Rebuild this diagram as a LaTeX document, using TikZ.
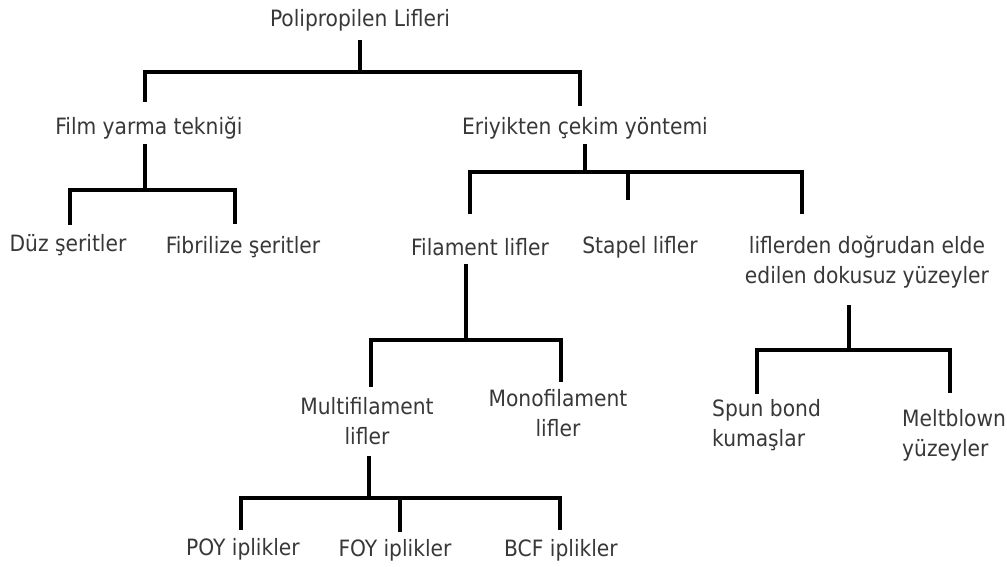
\documentclass[tikz,border=0pt]{standalone}
\usepackage{fontspec}
\setmainfont{DejaVu Sans Condensed}
\begin{document}
\begin{tikzpicture}[x=1pt,y=-1pt,
  lbl/.style={text=black!78, font=\fontsize{22.5}{30}\selectfont, inner sep=0pt, align=center},
  lbll/.style={lbl, align=left, anchor=west},
  tree/.style={line width=4pt, line join=miter, line cap=rect, black}]
\fill[white] (0,0) rectangle (1007,567);
\useasboundingbox (0,0) rectangle (1007,567);
% labels
\node[lbl] (root) at (360,20) {Polipropilen Lifleri};
\node[lbl] (film) at (149,128) {Film yarma tekniği};
\node[lbl] (eri)  at (585,128) {Eriyikten çekim yöntemi};
\node[lbl] (duz)  at (68,245)  {Düz şeritler};
\node[lbl] (fib)  at (243,247) {Fibrilize şeritler};
\node[lbl] (fil)  at (480,247) {Filament lifler};
\node[lbl] (sta)  at (640,247) {Stapel lifler};
\node[lbl] (dok)  at (867,262) {liflerden doğrudan elde\\edilen dokusuz yüzeyler};
\node[lbl] (multi) at (367,421) {Multifilament\\lifler};
\node[lbl] (mono) at (558,413) {Monofilament\\lifler};
\node[lbll] (spun) at (712,425) {Spun bond\\kumaşlar};
\node[lbll] (melt) at (902,435) {Meltblown\\yüzeyler};
\node[lbl] (poy) at (243,549) {POY iplikler};
\node[lbl] (foy) at (395,550) {FOY iplikler};
\node[lbl] (bcf) at (561,550) {BCF iplikler};
% junction coordinates
\coordinate (r0) at (360,42);  \coordinate (r1) at (360,72);
\coordinate (rl) at (145,100); \coordinate (rr) at (580,104);
\coordinate (f0) at (145,146); \coordinate (f1) at (145,190);
\coordinate (fl) at (70,223);  \coordinate (fr) at (235,222);
\coordinate (e0) at (585,146); \coordinate (e1) at (585,172);
\coordinate (el) at (470,212); \coordinate (em) at (628,198); \coordinate (er) at (802,212);
\coordinate (l0) at (466,266); \coordinate (l1) at (466,340);
\coordinate (ll) at (371,385); \coordinate (lr) at (561,380);
\coordinate (m0) at (369,458); \coordinate (m1) at (369,498);
\coordinate (ml) at (241,528); \coordinate (mm) at (400,530); \coordinate (mr) at (560,528);
\coordinate (d0) at (849,307); \coordinate (d1) at (849,350);
\coordinate (dl) at (757,392); \coordinate (dr) at (950,391);
% connectors
\draw[tree] (r0) -- (r1);
\draw[tree] (rl) |- (r1) -| (rr);
\draw[tree] (f0) -- (f1);
\draw[tree] (fl) |- (f1) -| (fr);
\draw[tree] (e0) -- (e1);
\draw[tree] (el) |- (e1) -| (er);
\draw[tree] (em) -- (em |- e1);
\draw[tree] (l0) -- (l1);
\draw[tree] (ll) |- (l1) -| (lr);
\draw[tree] (m0) -- (m1);
\draw[tree] (ml) |- (m1) -| (mr);
\draw[tree] (mm) -- (mm |- m1);
\draw[tree] (d0) -- (d1);
\draw[tree] (dl) |- (d1) -| (dr);
\end{tikzpicture}
\end{document}
